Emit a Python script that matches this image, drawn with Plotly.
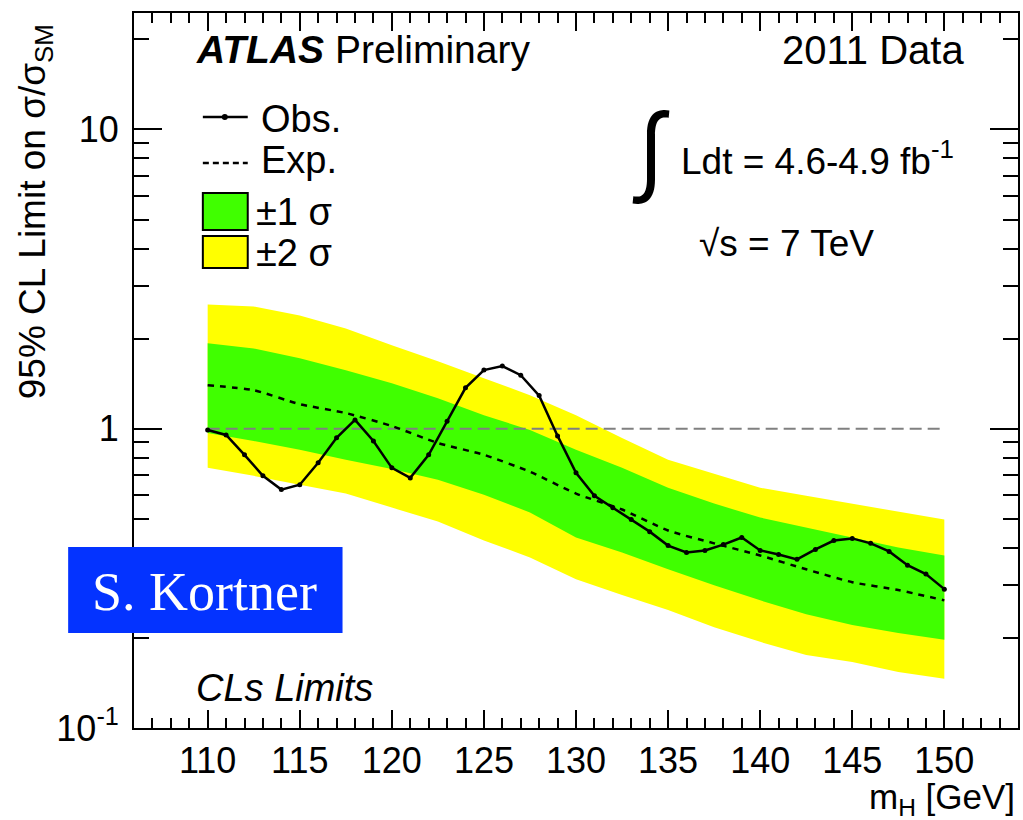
import plotly.graph_objects as go

# ---------------- data ----------------
mass_obs = [110, 111, 112, 113, 114, 115, 116, 117, 118, 119, 120, 121, 122, 123, 124, 125,
            126, 127, 128, 129, 130, 131, 132, 133, 134, 135, 136, 137, 138, 139, 140, 141,
            142, 143, 144, 145, 146, 147, 148, 149, 150]
observed = [0.99, 0.953, 0.818, 0.696, 0.626, 0.650, 0.769, 0.933, 1.07, 0.91, 0.740, 0.685,
            0.818, 1.06, 1.37, 1.57, 1.62, 1.51, 1.29, 0.946, 0.712, 0.597, 0.544, 0.497,
            0.453, 0.407, 0.386, 0.392, 0.410, 0.433, 0.392, 0.380, 0.366, 0.395, 0.423,
            0.430, 0.414, 0.389, 0.350, 0.327, 0.291]

mass_exp = [110, 112.5, 115, 117.5, 120, 122.5, 125, 127.5, 130, 132.5, 135, 137.5, 140,
            142.5, 145, 147.5, 150]
expected = [1.397, 1.345, 1.208, 1.128, 1.021, 0.896, 0.818, 0.718, 0.607, 0.537, 0.457,
            0.414, 0.377, 0.339, 0.307, 0.289, 0.267]
plus2 = [2.60, 2.56, 2.39, 2.16, 1.90, 1.68, 1.475, 1.294, 1.11, 0.931, 0.787, 0.707, 0.635,
         0.597, 0.562, 0.528, 0.497]
plus1 = [1.93, 1.855, 1.718, 1.567, 1.419, 1.265, 1.11, 0.990, 0.850, 0.740, 0.635, 0.562,
         0.505, 0.468, 0.433, 0.401, 0.377]
minus1 = [0.968, 0.910, 0.850, 0.787, 0.734, 0.675, 0.602, 0.525, 0.433, 0.386, 0.339, 0.300,
          0.267, 0.240, 0.221, 0.2075, 0.197]
minus2 = [0.740, 0.696, 0.650, 0.607, 0.545, 0.490, 0.423, 0.3715, 0.314, 0.278, 0.248, 0.217,
          0.194, 0.1754, 0.166, 0.154, 0.146]

ref_mass = [110, 150]
ref_level = [1, 1]

y_tickvals = [0.1, 1, 10]
y_ticktext = ["10<sup>-1</sup>", "1", "10"]
y_minor = [0.2, 0.3, 0.4, 0.5, 0.6, 0.7, 0.8, 0.9, 2, 3, 4, 5, 6, 7, 8, 9, 20]

GREEN = "#40FF00"
YELLOW = "#FFFF00"
FONT = "Liberation Sans"

fig = go.Figure()

fig.add_trace(go.Scatter(x=mass_exp + mass_exp[::-1], y=plus2 + minus2[::-1], fill="toself",
                         fillcolor=YELLOW, line=dict(width=0), mode="lines", hoverinfo="skip"))
fig.add_trace(go.Scatter(x=mass_exp + mass_exp[::-1], y=plus1 + minus1[::-1], fill="toself",
                         fillcolor=GREEN, line=dict(width=0), mode="lines", hoverinfo="skip"))
fig.add_trace(go.Scatter(x=ref_mass, y=ref_level, mode="lines",
                         line=dict(color="#808080", width=2, dash="12px,6px")))
fig.add_trace(go.Scatter(x=mass_exp, y=expected, mode="lines",
                         line=dict(color="black", width=2.5, dash="6px,6px",
                                   shape="spline", smoothing=0.6)))
fig.add_trace(go.Scatter(x=mass_obs, y=observed, mode="lines+markers",
                         line=dict(color="black", width=2.5),
                         marker=dict(color="black", size=5)))

W, H = 1023, 820
L, R, T, B = 134, 3, 13, 92
PW, PH = W - L - R, H - T - B


def px(x):
    return (x - L) / PW


def py(y):
    return (H - B - y) / PH


shapes = []
annotations = []

# legend
shapes.append(dict(type="line", xref="paper", yref="paper", x0=px(203), x1=px(248),
                   y0=py(117), y1=py(117), line=dict(color="black", width=2.5)))
shapes.append(dict(type="circle", xref="paper", yref="paper", x0=px(222), x1=px(228),
                   y0=py(114), y1=py(120), fillcolor="black", line=dict(width=0)))
shapes.append(dict(type="line", xref="paper", yref="paper", x0=px(203), x1=px(248),
                   y0=py(163), y1=py(163), line=dict(color="black", width=2.5, dash="6px,4px")))
shapes.append(dict(type="rect", xref="paper", yref="paper", x0=px(203), x1=px(248),
                   y0=py(193), y1=py(230), fillcolor=GREEN, line=dict(color="black", width=2)))
shapes.append(dict(type="rect", xref="paper", yref="paper", x0=px(203), x1=px(248),
                   y0=py(236), y1=py(268), fillcolor=YELLOW, line=dict(color="black", width=2)))


def txt(text, x, y, size=38, xanchor="left", yanchor="middle", family=FONT, **kw):
    annotations.append(dict(text=text, x=px(x), y=py(y), xref="paper", yref="paper",
                            xanchor=xanchor, yanchor=yanchor, showarrow=False,
                            font=dict(family=family, size=size, color="black"), **kw))


txt("Obs.", 259, 119)
txt("Exp.", 259, 160)
txt("±1 σ", 254, 212)
txt("±2 σ", 254, 253)

txt("<b><i>ATLAS</i></b> Preliminary", 194, 50, size=39)
txt("2011 Data", 968, 50, size=40, xanchor="right")
txt("∫", 652, 152, size=100, xanchor="center", family="Noto Sans CJK JP")
txt("Ldt = 4.6-4.9 fb<sup>-1</sup>", 680, 158, size=37)
txt("√s = 7 TeV", 698, 244, size=37)
txt("<i>CLs Limits</i>", 194, 688, size=38)

# axis titles
annotations.append(dict(text="95% CL Limit on σ/σ<sub>SM</sub>", x=px(35), y=py(212),
                        xref="paper", yref="paper", xanchor="center", yanchor="middle",
                        textangle=-90, showarrow=False,
                        font=dict(family=FONT, size=37, color="black")))
txt("m<sub>H</sub> [GeV]", 1019, 799, size=35, xanchor="right")

# S. Kortner label
shapes.append(dict(type="rect", xref="paper", yref="paper", x0=px(68), x1=px(343),
                   y0=py(633), y1=py(547), fillcolor="#0433FF", line=dict(width=0),
                   layer="above"))
annotations.append(dict(text="S. Kortner", x=px(205), y=py(592), xref="paper", yref="paper",
                        xanchor="center", yanchor="middle", showarrow=False,
                        font=dict(family="Liberation Serif", size=54, color="white")))

fig.update_layout(
    width=W, height=H,
    margin=dict(l=L, r=R, t=T, b=B),
    paper_bgcolor="white", plot_bgcolor="white",
    showlegend=False,
    shapes=shapes, annotations=annotations,
    font=dict(family=FONT, color="black"),
)

fig.update_xaxes(range=[106, 154], tickmode="array", tickvals=[110, 115, 120, 125, 130, 135, 140, 145, 150],
                 ticks="inside", ticklen=18, tickwidth=2, tickcolor="black",
                 showline=True, linecolor="black", linewidth=2, mirror="ticks",
                 showgrid=False, zeroline=False,
                 tickfont=dict(family=FONT, size=36, color="black"),
                 minor=dict(ticks="inside", ticklen=10, tickwidth=1.5, tickcolor="black", dtick=1,
                            tick0=106, showgrid=False))
fig.update_yaxes(type="log", range=[-1, 1.389], tickmode="array", tickvals=y_tickvals,
                 ticktext=y_ticktext,
                 ticks="inside", ticklen=28, tickwidth=2, tickcolor="black",
                 showline=True, linecolor="black", linewidth=2, mirror="ticks",
                 showgrid=False, zeroline=False, ticklabelstandoff=6,
                 tickfont=dict(family=FONT, size=36, color="black"),
                 minor=dict(ticks="inside", ticklen=15, tickwidth=1.5, tickcolor="black",
                            tickvals=y_minor, showgrid=False))

fig.write_html("out.html")
